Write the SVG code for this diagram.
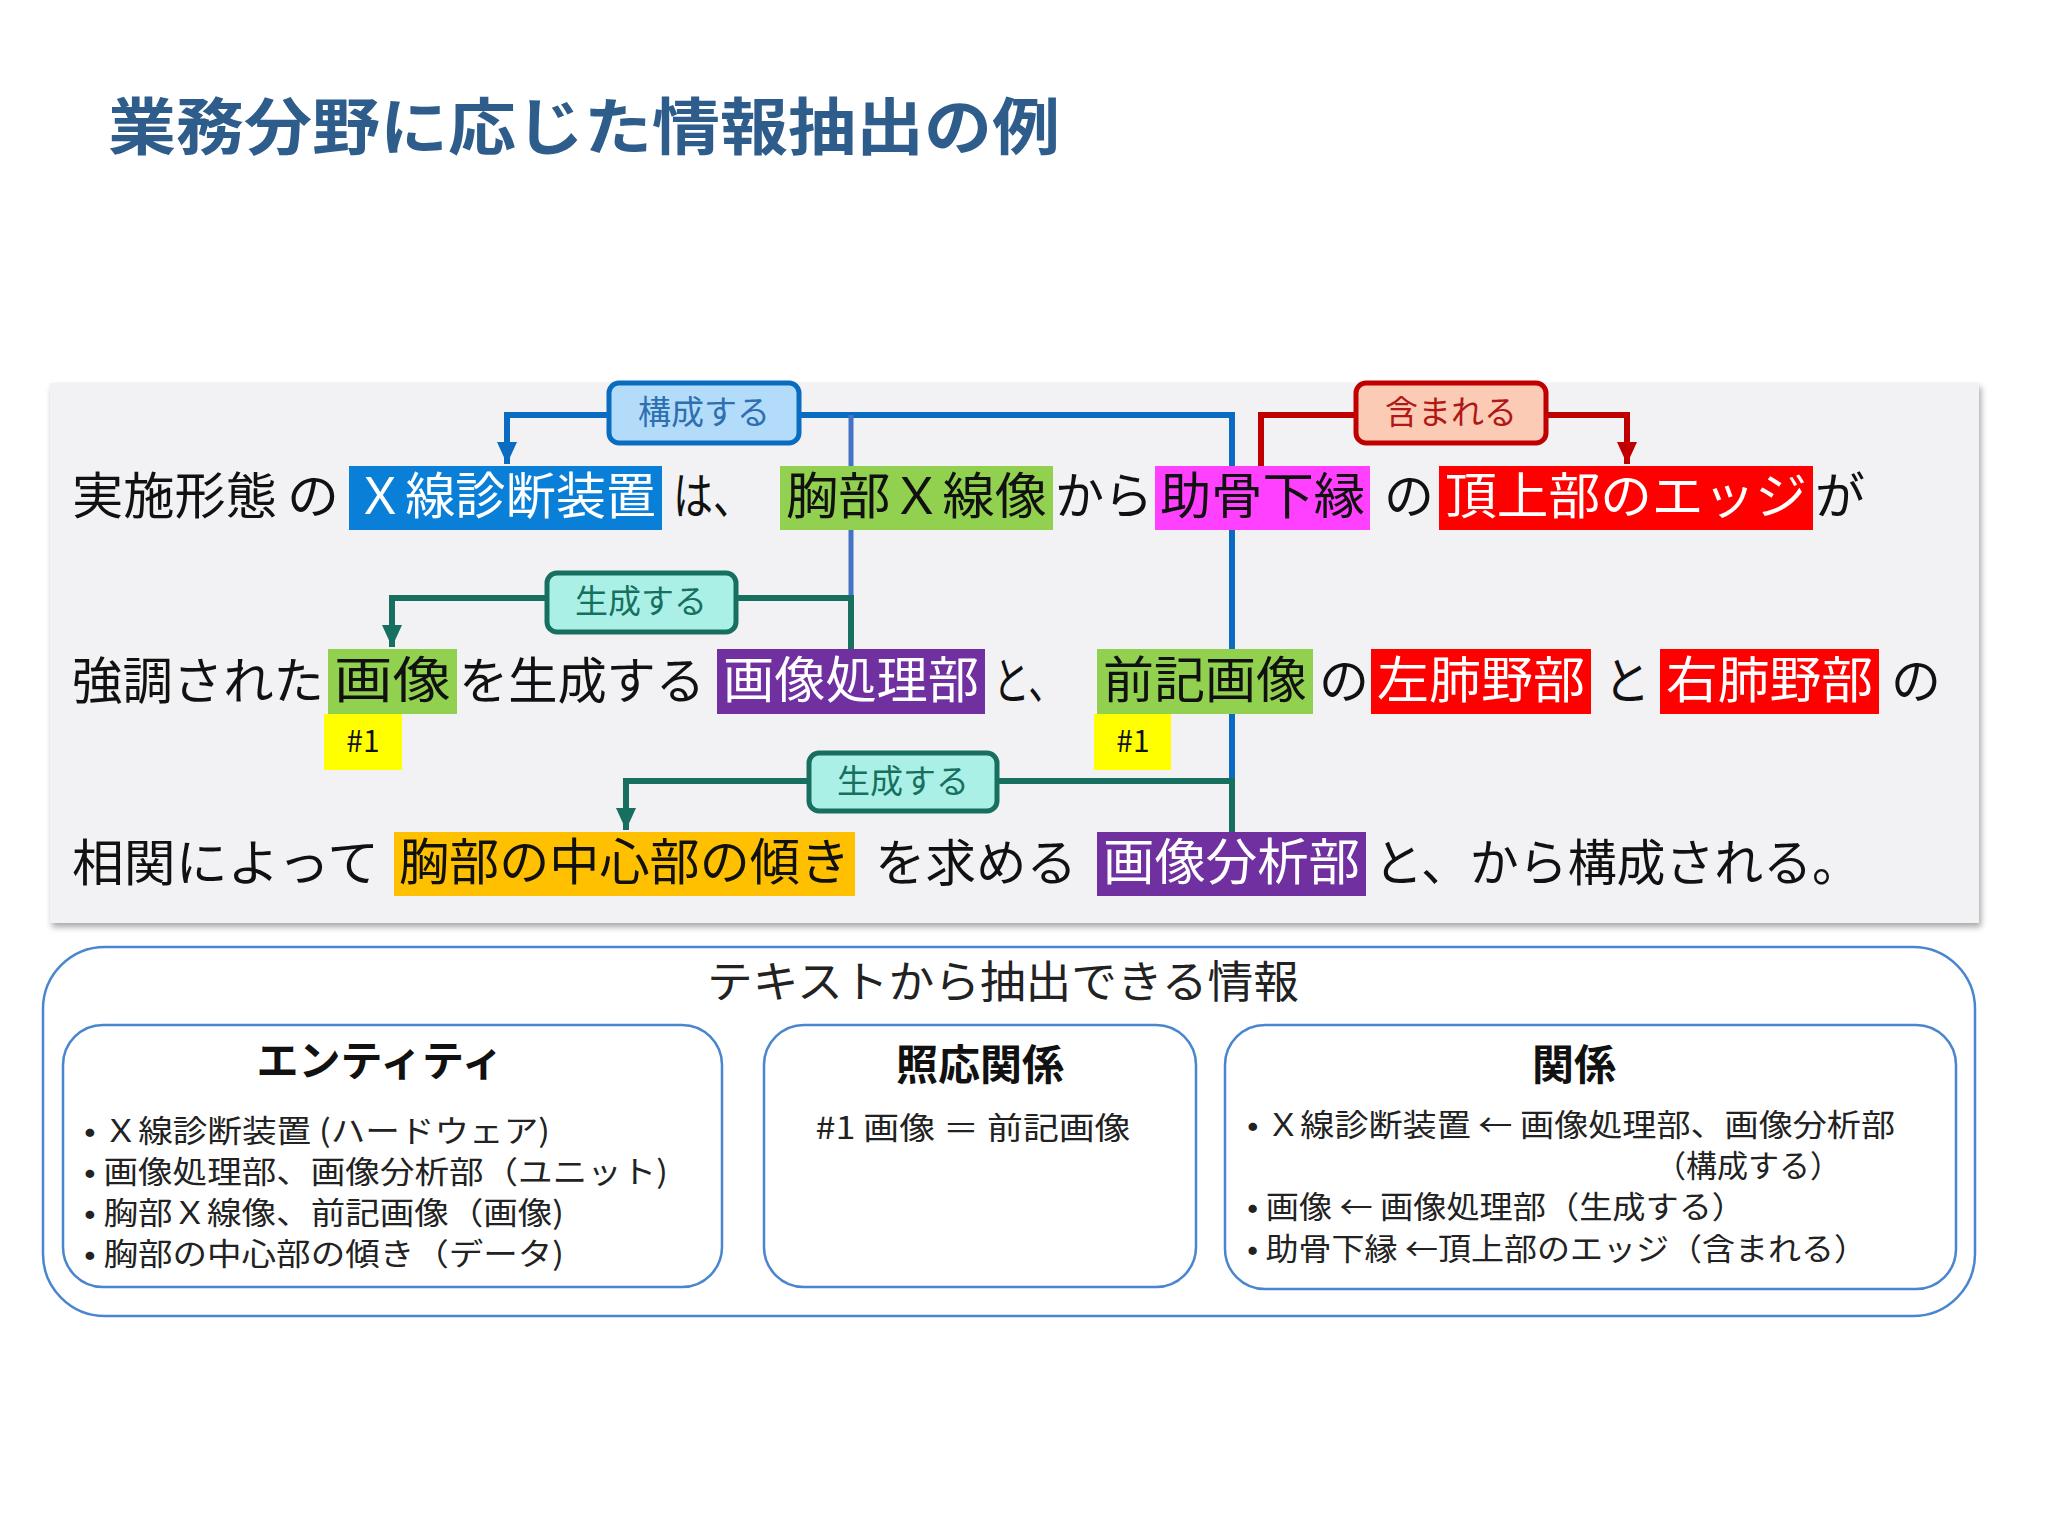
<svg xmlns="http://www.w3.org/2000/svg" width="2048" height="1536" viewBox="0 0 2048 1536">
<defs>
<style>
text{font-family:"Noto Sans CJK JP","Noto Sans",sans-serif}
.t{font-size:50px;fill:#111}
.w{font-size:50px;fill:#fff}
.lbl{font-size:33px;text-anchor:middle}
.h{font-size:42px;font-weight:bold;text-anchor:middle;fill:#111}
.b{font-size:31px;fill:#222}
.ln{fill:none;stroke-width:6}
</style>
<marker id="ab" viewBox="0 0 20 22" refX="10" refY="22" markerWidth="20" markerHeight="22" markerUnits="userSpaceOnUse"><path d="M0,0 L20,0 L10,22 Z" fill="#0a6cc0"/></marker>
<marker id="ag" viewBox="0 0 20 22" refX="10" refY="22" markerWidth="20" markerHeight="22" markerUnits="userSpaceOnUse"><path d="M0,0 L20,0 L10,22 Z" fill="#17705f"/></marker>
<marker id="ar" viewBox="0 0 20 22" refX="10" refY="22" markerWidth="20" markerHeight="22" markerUnits="userSpaceOnUse"><path d="M0,0 L20,0 L10,22 Z" fill="#c00000"/></marker>
<filter id="sh" x="-2%" y="-2%" width="104%" height="106%"><feDropShadow dx="2" dy="4" stdDeviation="3" flood-color="#000" flood-opacity="0.35"/></filter>
</defs>
<rect width="2048" height="1536" fill="#fff"/>
<text x="108" y="150" font-size="62" font-weight="bold" fill="#2e5d8c" textLength="952" lengthAdjust="spacingAndGlyphs">業務分野に応じた情報抽出の例</text>

<g id="panel"><rect x="50" y="383" width="1929" height="540" fill="#f2f2f4" filter="url(#sh)"/></g>

<g id="connectors">
<path class="ln" stroke="#0a6cc0" d="M607,415 H507 V464" marker-end="url(#ab)"/>
<path class="ln" stroke="#0a6cc0" d="M801,415 H1232 V778"/>
<path fill="none" stroke="#4472c4" stroke-width="5" d="M851,415 V598"/>
<path class="ln" stroke="#17705f" d="M545,598 H392 V647" marker-end="url(#ag)"/>
<path class="ln" stroke="#17705f" d="M738,598 H851 V649"/>
<path class="ln" stroke="#17705f" d="M807,781 H626 V830" marker-end="url(#ag)"/>
<path class="ln" stroke="#17705f" d="M999,781 H1232 V832"/>
<path class="ln" stroke="#c00000" stroke-width="7" d="M1354,415 H1261 V466"/>
<path class="ln" stroke="#c00000" stroke-width="7" d="M1548,415 H1627 V464" marker-end="url(#ar)"/>
</g>

<g id="line1">
<text class="t" x="72" y="514" textLength="205" lengthAdjust="spacingAndGlyphs">実施形態</text>
<text class="t" x="287" y="514" textLength="52" lengthAdjust="spacingAndGlyphs">の</text>
<g id="n-xray"><rect x="349" y="466" width="313" height="64" fill="#0a7fd8"/><text class="w" x="355" y="514" textLength="301" lengthAdjust="spacingAndGlyphs">Ｘ線診断装置</text></g>
<text class="t" x="673" y="514" textLength="80" lengthAdjust="spacingAndGlyphs">は、</text>
<g id="n-chest"><rect x="780" y="466" width="273" height="64" fill="#92d050"/><text class="t" x="786" y="514" textLength="261" lengthAdjust="spacingAndGlyphs">胸部Ｘ線像</text></g>
<text class="t" x="1055" y="514" textLength="98" lengthAdjust="spacingAndGlyphs">から</text>
<g id="n-rib"><rect x="1155" y="466" width="215" height="64" fill="#ff40ff"/><text class="t" x="1160" y="514" textLength="205" lengthAdjust="spacingAndGlyphs">助骨下縁</text></g>
<text class="t" x="1384" y="514" textLength="50" lengthAdjust="spacingAndGlyphs">の</text>
<g id="n-edge"><rect x="1439" y="466" width="374" height="64" fill="#ff0000"/><text class="w" x="1445" y="514" textLength="362" lengthAdjust="spacingAndGlyphs">頂上部のエッジ</text></g>
<text class="t" x="1815" y="514" textLength="50" lengthAdjust="spacingAndGlyphs">が</text>
</g>

<g id="line2">
<text class="t" x="72" y="699" textLength="252" lengthAdjust="spacingAndGlyphs">強調された</text>
<g id="n-img"><rect x="328" y="649" width="129" height="65" fill="#92d050"/><text class="t" x="334" y="698" textLength="117" lengthAdjust="spacingAndGlyphs">画像</text></g>
<rect x="324" y="714" width="78" height="56" fill="#ffff00"/><text x="363" y="752" font-size="30" text-anchor="middle" fill="#111">#1</text>
<text class="t" x="459" y="699" textLength="246" lengthAdjust="spacingAndGlyphs">を生成する</text>
<g id="n-proc"><rect x="717" y="649" width="268" height="65" fill="#7030a0"/><text class="w" x="723" y="698" textLength="256" lengthAdjust="spacingAndGlyphs">画像処理部</text></g>
<text class="t" x="993" y="699" textLength="72" lengthAdjust="spacingAndGlyphs">と、</text>
<g id="n-prev"><rect x="1097" y="649" width="216" height="65" fill="#92d050"/><text class="t" x="1103" y="698" textLength="204" lengthAdjust="spacingAndGlyphs">前記画像</text></g>
<rect x="1094" y="714" width="77" height="56" fill="#ffff00"/><text x="1133" y="752" font-size="30" text-anchor="middle" fill="#111">#1</text>
<text class="t" x="1319" y="699" textLength="50" lengthAdjust="spacingAndGlyphs">の</text>
<g id="n-left"><rect x="1371" y="649" width="220" height="65" fill="#ff0000"/><text class="w" x="1377" y="698" textLength="208" lengthAdjust="spacingAndGlyphs">左肺野部</text></g>
<text class="t" x="1604" y="699" textLength="46" lengthAdjust="spacingAndGlyphs">と</text>
<g id="n-right"><rect x="1660" y="649" width="219" height="65" fill="#ff0000"/><text class="w" x="1666" y="698" textLength="207" lengthAdjust="spacingAndGlyphs">右肺野部</text></g>
<text class="t" x="1891" y="699" textLength="50" lengthAdjust="spacingAndGlyphs">の</text>
</g>

<g id="line3">
<text class="t" x="72" y="881" textLength="307" lengthAdjust="spacingAndGlyphs">相関によって</text>
<g id="n-tilt"><rect x="394" y="832" width="461" height="64" fill="#ffc000"/><text class="t" x="399" y="880" textLength="451" lengthAdjust="spacingAndGlyphs">胸部の中心部の傾き</text></g>
<text class="t" x="875" y="881" textLength="202" lengthAdjust="spacingAndGlyphs">を求める</text>
<g id="n-anal"><rect x="1097" y="832" width="269" height="64" fill="#7030a0"/><text class="w" x="1103" y="880" textLength="257" lengthAdjust="spacingAndGlyphs">画像分析部</text></g>
<text class="t" x="1374" y="881" textLength="487" lengthAdjust="spacingAndGlyphs">と、から構成される。</text>
</g>

<g id="labels">
<g id="l-kosei"><rect x="609" y="383" width="190" height="60" rx="10" fill="#b3dcfb" stroke="#0a6cc0" stroke-width="5"/><text class="lbl" x="704" y="424" fill="#2f6fb0">構成する</text></g>
<g id="l-sei1"><rect x="547" y="573" width="189" height="59" rx="10" fill="#aaf0e6" stroke="#17705f" stroke-width="5"/><text class="lbl" x="641" y="613" fill="#17705f">生成する</text></g>
<g id="l-sei2"><rect x="809" y="753" width="188" height="58" rx="10" fill="#aaf0e6" stroke="#17705f" stroke-width="5"/><text class="lbl" x="903" y="793" fill="#17705f">生成する</text></g>
<g id="l-fukumu"><rect x="1356" y="383" width="190" height="60" rx="10" fill="#fbcbb5" stroke="#c00000" stroke-width="5"/><text class="lbl" x="1451" y="424" fill="#b01818">含まれる</text></g>
</g>

<g id="info">
<rect x="43" y="947" width="1932" height="369" rx="62" fill="#fff" stroke="#4a86d0" stroke-width="2.5"/>
<text x="1003" y="998" font-size="44" text-anchor="middle" fill="#222" textLength="592" lengthAdjust="spacingAndGlyphs">テキストから抽出できる情報</text>
<g id="ent">
<rect x="63" y="1025" width="659" height="262" rx="40" fill="#fff" stroke="#4a86d0" stroke-width="2.5"/>
<text class="h" x="380" y="1076">エンティティ</text>
<text class="b" x="84" y="1142" textLength="466" lengthAdjust="spacingAndGlyphs">• Ｘ線診断装置 (ハードウェア)</text>
<text class="b" x="84" y="1183" textLength="584" lengthAdjust="spacingAndGlyphs">• 画像処理部、画像分析部（ユニット)</text>
<text class="b" x="84" y="1224" textLength="480" lengthAdjust="spacingAndGlyphs">• 胸部Ｘ線像、前記画像（画像)</text>
<text class="b" x="84" y="1265" textLength="480" lengthAdjust="spacingAndGlyphs">• 胸部の中心部の傾き（データ)</text>
</g>
<g id="ana">
<rect x="764" y="1025" width="432" height="262" rx="40" fill="#fff" stroke="#4a86d0" stroke-width="2.5"/>
<text class="h" x="980" y="1080">照応関係</text>
<text class="b" x="973" y="1139" text-anchor="middle" textLength="315" lengthAdjust="spacingAndGlyphs">#1 画像 ＝ 前記画像</text>
</g>
<g id="rel">
<rect x="1225" y="1025" width="731" height="264" rx="40" fill="#fff" stroke="#4a86d0" stroke-width="2.5"/>
<text class="h" x="1574" y="1080">関係</text>
<text class="b" x="1247" y="1136" textLength="648" lengthAdjust="spacingAndGlyphs">• Ｘ線診断装置 ← 画像処理部、画像分析部</text>
<text class="b" x="1841" y="1177" text-anchor="end">（構成する）</text>
<text class="b" x="1247" y="1218" textLength="498" lengthAdjust="spacingAndGlyphs">• 画像 ← 画像処理部（生成する）</text>
<text class="b" x="1247" y="1260" textLength="620" lengthAdjust="spacingAndGlyphs">• 助骨下縁 ←頂上部のエッジ（含まれる）</text>
</g>
</g>
</svg>
